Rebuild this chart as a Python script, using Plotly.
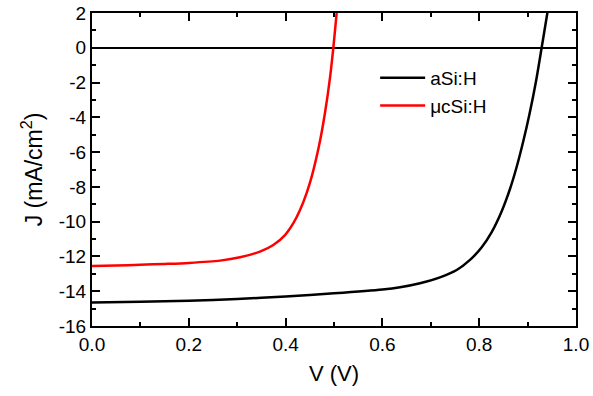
import plotly.graph_objects as go

# aSi:H curve (V, J)
v_asi = [0.0, 0.1, 0.2, 0.3, 0.4, 0.5, 0.6, 0.6364, 0.6777, 0.719, 0.7535, 0.781, 0.8052,
         0.8258, 0.8465, 0.8636, 0.8775, 0.8912, 0.9036, 0.9174, 0.929, 0.9408, 0.946]
j_asi = [-14.65, -14.6, -14.55, -14.45, -14.3, -14.12, -13.9, -13.77, -13.54, -13.2, -12.78,
         -12.2, -11.47, -10.6, -9.4, -8.12, -6.84, -5.36, -3.85, -1.92, 0.0, 2.0, 2.9]

# μcSi:H curve (V, J)
v_uc = [0.0, 0.05, 0.1, 0.15, 0.2, 0.2645, 0.3058, 0.347, 0.3746, 0.3988, 0.416, 0.4298,
        0.4436, 0.4539, 0.4697, 0.4814, 0.4917, 0.4986, 0.5055, 0.509]
j_uc = [-12.55, -12.52, -12.48, -12.43, -12.37, -12.24, -12.05, -11.72, -11.34, -10.77,
        -10.09, -9.33, -8.34, -7.41, -5.55, -3.74, -1.73, 0.0, 2.0, 3.0]

names = ["aSi:H", "μcSi:H"]
colors = ["black", "red"]

x_ticks = [0.0, 0.2, 0.4, 0.6, 0.8, 1.0]
x_ticktext = ["0.0", "0.2", "0.4", "0.6", "0.8", "1.0"]
y_ticks = [-16, -14, -12, -10, -8, -6, -4, -2, 0, 2]
y_ticktext = ["-16", "-14", "-12", "-10", "-8", "-6", "-4", "-2", "0", "2"]

FONT = "Liberation Sans, Arial, sans-serif"

fig = go.Figure()
fig.add_trace(go.Scatter(x=v_asi, y=j_asi, mode="lines", name=names[0],
                         line=dict(color=colors[0], width=2.5, shape="spline", smoothing=0.8)))
fig.add_trace(go.Scatter(x=v_uc, y=j_uc, mode="lines", name=names[1],
                         line=dict(color=colors[1], width=2.5, shape="spline", smoothing=0.8)))

axis_common = dict(
    showline=True, linecolor="black", linewidth=2, mirror="ticks",
    ticks="inside", ticklen=8, tickwidth=1.5, tickcolor="black",
    showgrid=False, automargin=False,
    tickfont=dict(family=FONT, size=19, color="black"),
)

fig.update_xaxes(
    range=[0, 1], tickvals=x_ticks, ticktext=x_ticktext,
    minor=dict(ticks="inside", ticklen=4, dtick=0.1, tick0=0, tickcolor="black", tickwidth=1.5),
    title=dict(text="V (V)", font=dict(family=FONT, size=22, color="black"), standoff=12),
    zeroline=False,
    **axis_common,
)
fig.update_yaxes(
    range=[-16, 2], tickvals=y_ticks, ticktext=y_ticktext,
    minor=dict(ticks="inside", ticklen=4, dtick=1, tick0=0, tickcolor="black", tickwidth=1.5),
    title=dict(text="J (mA/cm<sup>2</sup>)", font=dict(family=FONT, size=23, color="black"), standoff=10),
    zeroline=True, zerolinecolor="black", zerolinewidth=2,
    **axis_common,
)

fig.update_layout(
    width=593, height=396,
    margin=dict(l=92, r=17, t=13, b=70),
    plot_bgcolor="white", paper_bgcolor="white",
    legend=dict(x=0.585, y=0.853, xanchor="left", yanchor="top",
                bgcolor="rgba(0,0,0,0)", font=dict(family=FONT, size=19, color="black"),
                itemwidth=45, tracegroupgap=0),
    showlegend=True,
)

# remove the page's default 8px body margin so the figure sits at the window's corner
fig.write_html("out.html", config={"displayModeBar": False},
               post_script="document.body.style.margin='0';")
